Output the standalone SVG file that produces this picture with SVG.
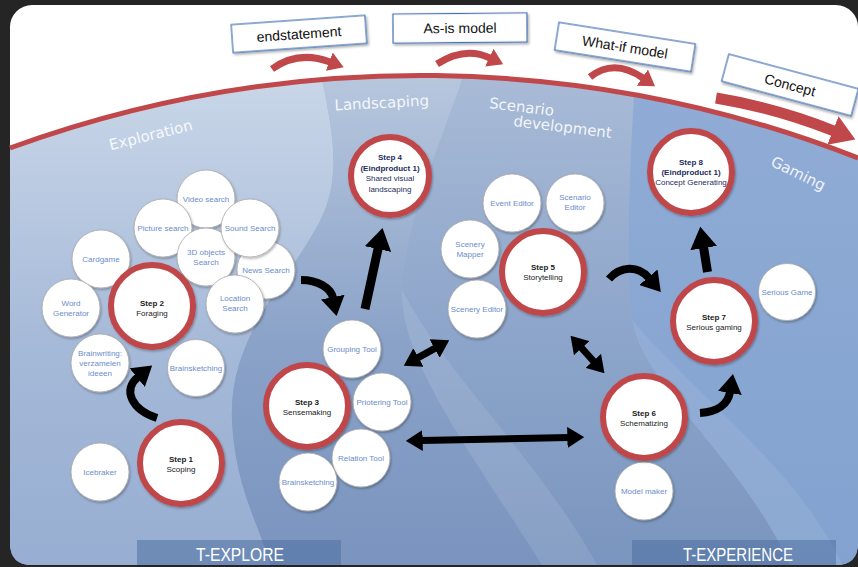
<svg xmlns="http://www.w3.org/2000/svg" width="858" height="567" viewBox="0 0 858 567">
<defs>
<style>
.tool circle{fill:#fff;stroke:#a9a9a9;stroke-width:0.8;filter:url(#sh)}
.tool text{font-family:"Liberation Sans",Arial,sans-serif;font-size:8px;fill:#6b8dca;text-anchor:middle}
.step circle{fill:#fff;stroke:#c0474a;stroke-width:6;filter:url(#sh)}
.step text{font-family:"Liberation Sans",Arial,sans-serif;font-size:8px;fill:#222;text-anchor:middle}
.step text.b{font-weight:bold}
.navy text{fill:#1e2c5e}
.sec{font-family:"DejaVu Sans",sans-serif;font-size:15px;fill:#fff;fill-opacity:0.88;text-anchor:middle}
.lbl rect{fill:#fff;stroke:#3d6fb5;stroke-width:1.2;filter:url(#sh2)}
.lbl text{font-family:"Liberation Sans",Arial,sans-serif;font-size:14px;fill:#111;text-anchor:middle}
.ba{fill:none;stroke:#000;marker-end:url(#bh)}
.dbl{marker-start:url(#bh)}
.ra{fill:none;stroke:#c0474a;stroke-width:7;marker-end:url(#rh)}
.band{fill:#4f6fa0;opacity:0.55}
.bt{font-family:"Liberation Sans",Arial,sans-serif;font-size:19px;fill:#fff;text-anchor:middle}
</style>
<filter id="sh" x="-20%" y="-20%" width="140%" height="140%"><feDropShadow dx="1" dy="1.5" stdDeviation="1.2" flood-color="#000" flood-opacity="0.3"/></filter>
<filter id="sh2" x="-10%" y="-30%" width="120%" height="160%"><feDropShadow dx="1.5" dy="2" stdDeviation="1.2" flood-color="#000" flood-opacity="0.3"/></filter>
<marker id="bh" viewBox="0 0 10 10" refX="0.5" refY="5" markerWidth="2.4" markerHeight="3" orient="auto-start-reverse" preserveAspectRatio="none"><path d="M0,0L10,5L0,10z" fill="#000"/></marker>
<marker id="rh" viewBox="0 0 10 10" refX="0.5" refY="5" markerWidth="2.2" markerHeight="2.8" orient="auto" preserveAspectRatio="none"><path d="M0,0L10,5L0,10z" fill="#c0474a"/></marker>
<linearGradient id="gBase" gradientUnits="userSpaceOnUse" x1="0" y1="80" x2="0" y2="567"><stop offset="0" stop-color="#a8bbd8"/><stop offset="1" stop-color="#7e98c2"/></linearGradient>
<linearGradient id="gExp" gradientUnits="userSpaceOnUse" x1="0" y1="80" x2="0" y2="567"><stop offset="0" stop-color="#c9d6e8"/><stop offset="0.55" stop-color="#a5b9d8"/><stop offset="1" stop-color="#97aed2"/></linearGradient>
<linearGradient id="gLand" gradientUnits="userSpaceOnUse" x1="0" y1="80" x2="0" y2="567"><stop offset="0" stop-color="#b6c6dd"/><stop offset="0.55" stop-color="#8aa2c8"/><stop offset="1" stop-color="#7a94bf"/></linearGradient>
<linearGradient id="gScen" gradientUnits="userSpaceOnUse" x1="0" y1="80" x2="0" y2="567"><stop offset="0" stop-color="#a8bad6"/><stop offset="0.5" stop-color="#8ea6cb"/><stop offset="1" stop-color="#7a95be"/></linearGradient>
<linearGradient id="gGame" gradientUnits="userSpaceOnUse" x1="0" y1="80" x2="0" y2="567"><stop offset="0" stop-color="#90acd6"/><stop offset="1" stop-color="#83a2cf"/></linearGradient>
<clipPath id="blue"><path d="M10,148 A1200,1200 0 0 1 858,158 L858,543 Q858,565 836,565 L32,565 Q10,565 10,543 Z"/></clipPath>
</defs>
<rect x="0" y="0" width="858" height="567" fill="#252525"/>
<rect x="10" y="5" width="848" height="560" rx="22" fill="#fff"/>
<g id="backdrop" clip-path="url(#blue)">
<rect x="0" y="60" width="858" height="510" fill="url(#gBase)"/>
<path d="M0,60 L318,60 C330,120 342,165 325,210 C300,270 228,330 232,420 C235,490 262,530 272,570 L0,570 Z" fill="url(#gExp)"/>
<path d="M318,60 L468,60 C455,110 405,215 402,290 C400,360 470,450 545,570 L272,570 C262,530 235,490 232,420 C228,330 300,270 325,210 C342,165 330,120 318,60 Z" fill="url(#gLand)"/>
<path d="M468,60 L636,60 C632,130 624,260 632,320 C645,390 745,460 792,570 L545,570 C470,450 400,360 402,290 C405,215 455,110 468,60 Z" fill="url(#gScen)"/>
<path d="M402,290 C400,360 470,450 545,570 L600,570 C540,460 450,380 402,290Z" fill="#fff" opacity="0.1"/>
<path d="M636,60 L870,60 L870,570 L792,570 C745,460 645,390 632,320 C624,260 632,130 636,60 Z" fill="url(#gGame)"/>
<path d="M632,320 C645,390 745,460 792,570 L845,570 C800,470 700,400 632,320Z" fill="#fff" opacity="0.08"/>
<rect class="band" x="137" y="540" width="204" height="30"/>
<rect class="band" x="632" y="540" width="204" height="30"/>
</g>
<path id="arc" d="M10,148 A1200,1200 0 0 1 858,158" fill="none" stroke="#c0474a" stroke-width="5"/>
<text class="bt" x="240" y="561" textLength="88" lengthAdjust="spacingAndGlyphs">T-EXPLORE</text>
<text class="bt" x="738" y="561" textLength="110" lengthAdjust="spacingAndGlyphs">T-EXPERIENCE</text>
<text class="sec" transform="translate(152,140) rotate(-14)">Exploration</text>
<text class="sec" transform="translate(382,108) rotate(-3)">Landscaping</text>
<text class="sec" transform="translate(521,112) rotate(7)">Scenario</text>
<text class="sec" transform="translate(562,132) rotate(7)">development</text>
<text class="sec" transform="translate(796,178) rotate(26)">Gaming</text>
<g id="label-endstatement" class="lbl" transform="translate(299,34) rotate(-4)"><rect x="-67" y="-14" width="134" height="28"/><text x="0" y="5">endstatement</text></g>
<g id="label-asis" class="lbl" transform="translate(460,28) rotate(-0.5)"><rect x="-67" y="-14.5" width="134" height="29"/><text x="0" y="5">As-is model</text></g>
<g id="label-whatif" class="lbl" transform="translate(625,47) rotate(9)"><rect x="-69" y="-14" width="138" height="28"/><text x="0" y="5">What-if model</text></g>
<g id="label-concept" class="lbl" transform="translate(790,85) rotate(15)"><rect x="-67" y="-14" width="134" height="28"/><text x="0" y="5">Concept</text></g>
<g id="connectors">
<path class="ra" d="M272,69 Q298,50 330,62"/>
<path class="ra" d="M437,64 Q465,46 490,58"/>
<path class="ra" d="M590,77 Q614,58 643,78"/>
<path d="M716,98 Q776,108 834,131" fill="none" stroke="#c0474a" stroke-width="11" marker-end="url(#rh)"/>
<path class="ba" stroke-width="8" d="M157,418 C132,410 122,390 138,377"/>
<path class="ba" stroke-width="8" d="M301,280 C318,280 331,288 333,298"/>
<path class="ba" stroke-width="9" d="M365,309 L378.2,248"/>
<path class="ba dbl" stroke-width="7" d="M417.7,357.9 L435.3,348.1"/>
<path class="ba dbl" stroke-width="7" d="M581.2,347.5 L593.8,361.5"/>
<path class="ba dbl" stroke-width="7" d="M421.8,440.6 L568.2,437.4"/>
<path class="ba" stroke-width="8" d="M609,279 C620,266 638,265 649,278"/>
<path class="ba" stroke-width="8" d="M700,413 C718,412 728,404 730,392"/>
<path class="ba" stroke-width="9" d="M707.5,272 L703.5,247"/>
</g>
<g id="icebraker" class="tool"><circle cx="100" cy="472" r="29"/><text x="100" y="475">Icebraker</text></g>
<g id="step1" class="step"><circle cx="181" cy="463" r="41"/><text class="b" x="181" y="462">Step 1</text><text x="181" y="472">Scoping</text></g>
<g id="cardgame" class="tool"><circle cx="101" cy="259" r="29"/><text x="101" y="262">Cardgame</text></g>
<g id="word-generator" class="tool"><circle cx="71" cy="308" r="29"/><text x="71" y="306">Word</text><text x="71" y="316">Generator</text></g>
<g id="brainwriting" class="tool"><circle cx="100" cy="363" r="29"/><text x="100" y="356">Brainwriting:</text><text x="100" y="366">verzamelen</text><text x="100" y="376">ideeen</text></g>
<g id="brainsketching1" class="tool"><circle cx="196" cy="368" r="28.5"/><text x="196" y="371">Brainsketching</text></g>
<g id="video-search" class="tool"><circle cx="206" cy="199" r="29"/><text x="206" y="202">Video search</text></g>
<g id="picture-search" class="tool"><circle cx="163" cy="228" r="29"/><text x="163" y="231">Picture search</text></g>
<g id="objects-search" class="tool"><circle cx="206" cy="257" r="29"/><text x="206" y="255">3D objects</text><text x="206" y="265">Search</text></g>
<g id="news-search" class="tool"><circle cx="266" cy="270" r="29"/><text x="266" y="273">News Search</text></g>
<g id="sound-search" class="tool"><circle cx="250" cy="228" r="29"/><text x="250" y="231">Sound Search</text></g>
<g id="location-search" class="tool"><circle cx="235" cy="304" r="29"/><text x="235" y="301">Location</text><text x="235" y="311">Search</text></g>
<g id="step2" class="step"><circle cx="152" cy="306" r="41"/><text class="b" x="152" y="306">Step 2</text><text x="152" y="316">Foraging</text></g>
<g id="grouping-tool" class="tool"><circle cx="352" cy="349" r="29"/><text x="352" y="352">Grouping Tool</text></g>
<g id="priotering-tool" class="tool"><circle cx="382" cy="402" r="29"/><text x="382" y="405">Priotering Tool</text></g>
<g id="relation-tool" class="tool"><circle cx="361" cy="458" r="29"/><text x="361" y="461">Relation Tool</text></g>
<g id="brainsketching2" class="tool"><circle cx="308" cy="482" r="29"/><text x="308" y="485">Brainsketching</text></g>
<g id="step3" class="step"><circle cx="307" cy="406" r="41"/><text class="b" x="307" y="405">Step 3</text><text x="307" y="415">Sensemaking</text></g>
<g id="step4" class="step navy"><circle cx="390" cy="176" r="39"/><text class="b" x="390" y="160">Step 4</text><text class="b" x="390" y="170.5">(Eindproduct 1)</text><text x="390" y="181">Shared visual</text><text x="390" y="191.5">landscaping</text></g>
<g id="event-editor" class="tool"><circle cx="512" cy="203" r="29"/><text x="512" y="206">Event Editor</text></g>
<g id="scenario-editor" class="tool"><circle cx="575" cy="203" r="29"/><text x="575" y="200">Scenario</text><text x="575" y="210">Editor</text></g>
<g id="scenery-mapper" class="tool"><circle cx="470" cy="249" r="29"/><text x="470" y="247">Scenery</text><text x="470" y="257">Mapper</text></g>
<g id="scenery-editor" class="tool"><circle cx="477" cy="309" r="29"/><text x="477" y="312">Scenery Editor</text></g>
<g id="step5" class="step"><circle cx="543" cy="272" r="41"/><text class="b" x="543" y="270">Step 5</text><text x="543" y="280">Storytelling</text></g>
<g id="model-maker" class="tool"><circle cx="644" cy="491" r="29"/><text x="644" y="494">Model maker</text></g>
<g id="step6" class="step"><circle cx="644" cy="417" r="41"/><text class="b" x="644" y="416">Step 6</text><text x="644" y="426">Schematizing</text></g>
<g id="serious-game" class="tool"><circle cx="787" cy="292" r="28.5"/><text x="787" y="295">Serious Game</text></g>
<g id="step7" class="step"><circle cx="714" cy="321" r="41"/><text class="b" x="714" y="320">Step 7</text><text x="714" y="330">Serious gaming</text></g>
<g id="step8" class="step navy"><circle cx="691" cy="172" r="41"/><text class="b" x="691" y="164.5">Step 8</text><text class="b" x="691" y="174.5">(Eindproduct 1)</text><text x="691" y="184.5">Concept Generating</text></g>
</svg>
